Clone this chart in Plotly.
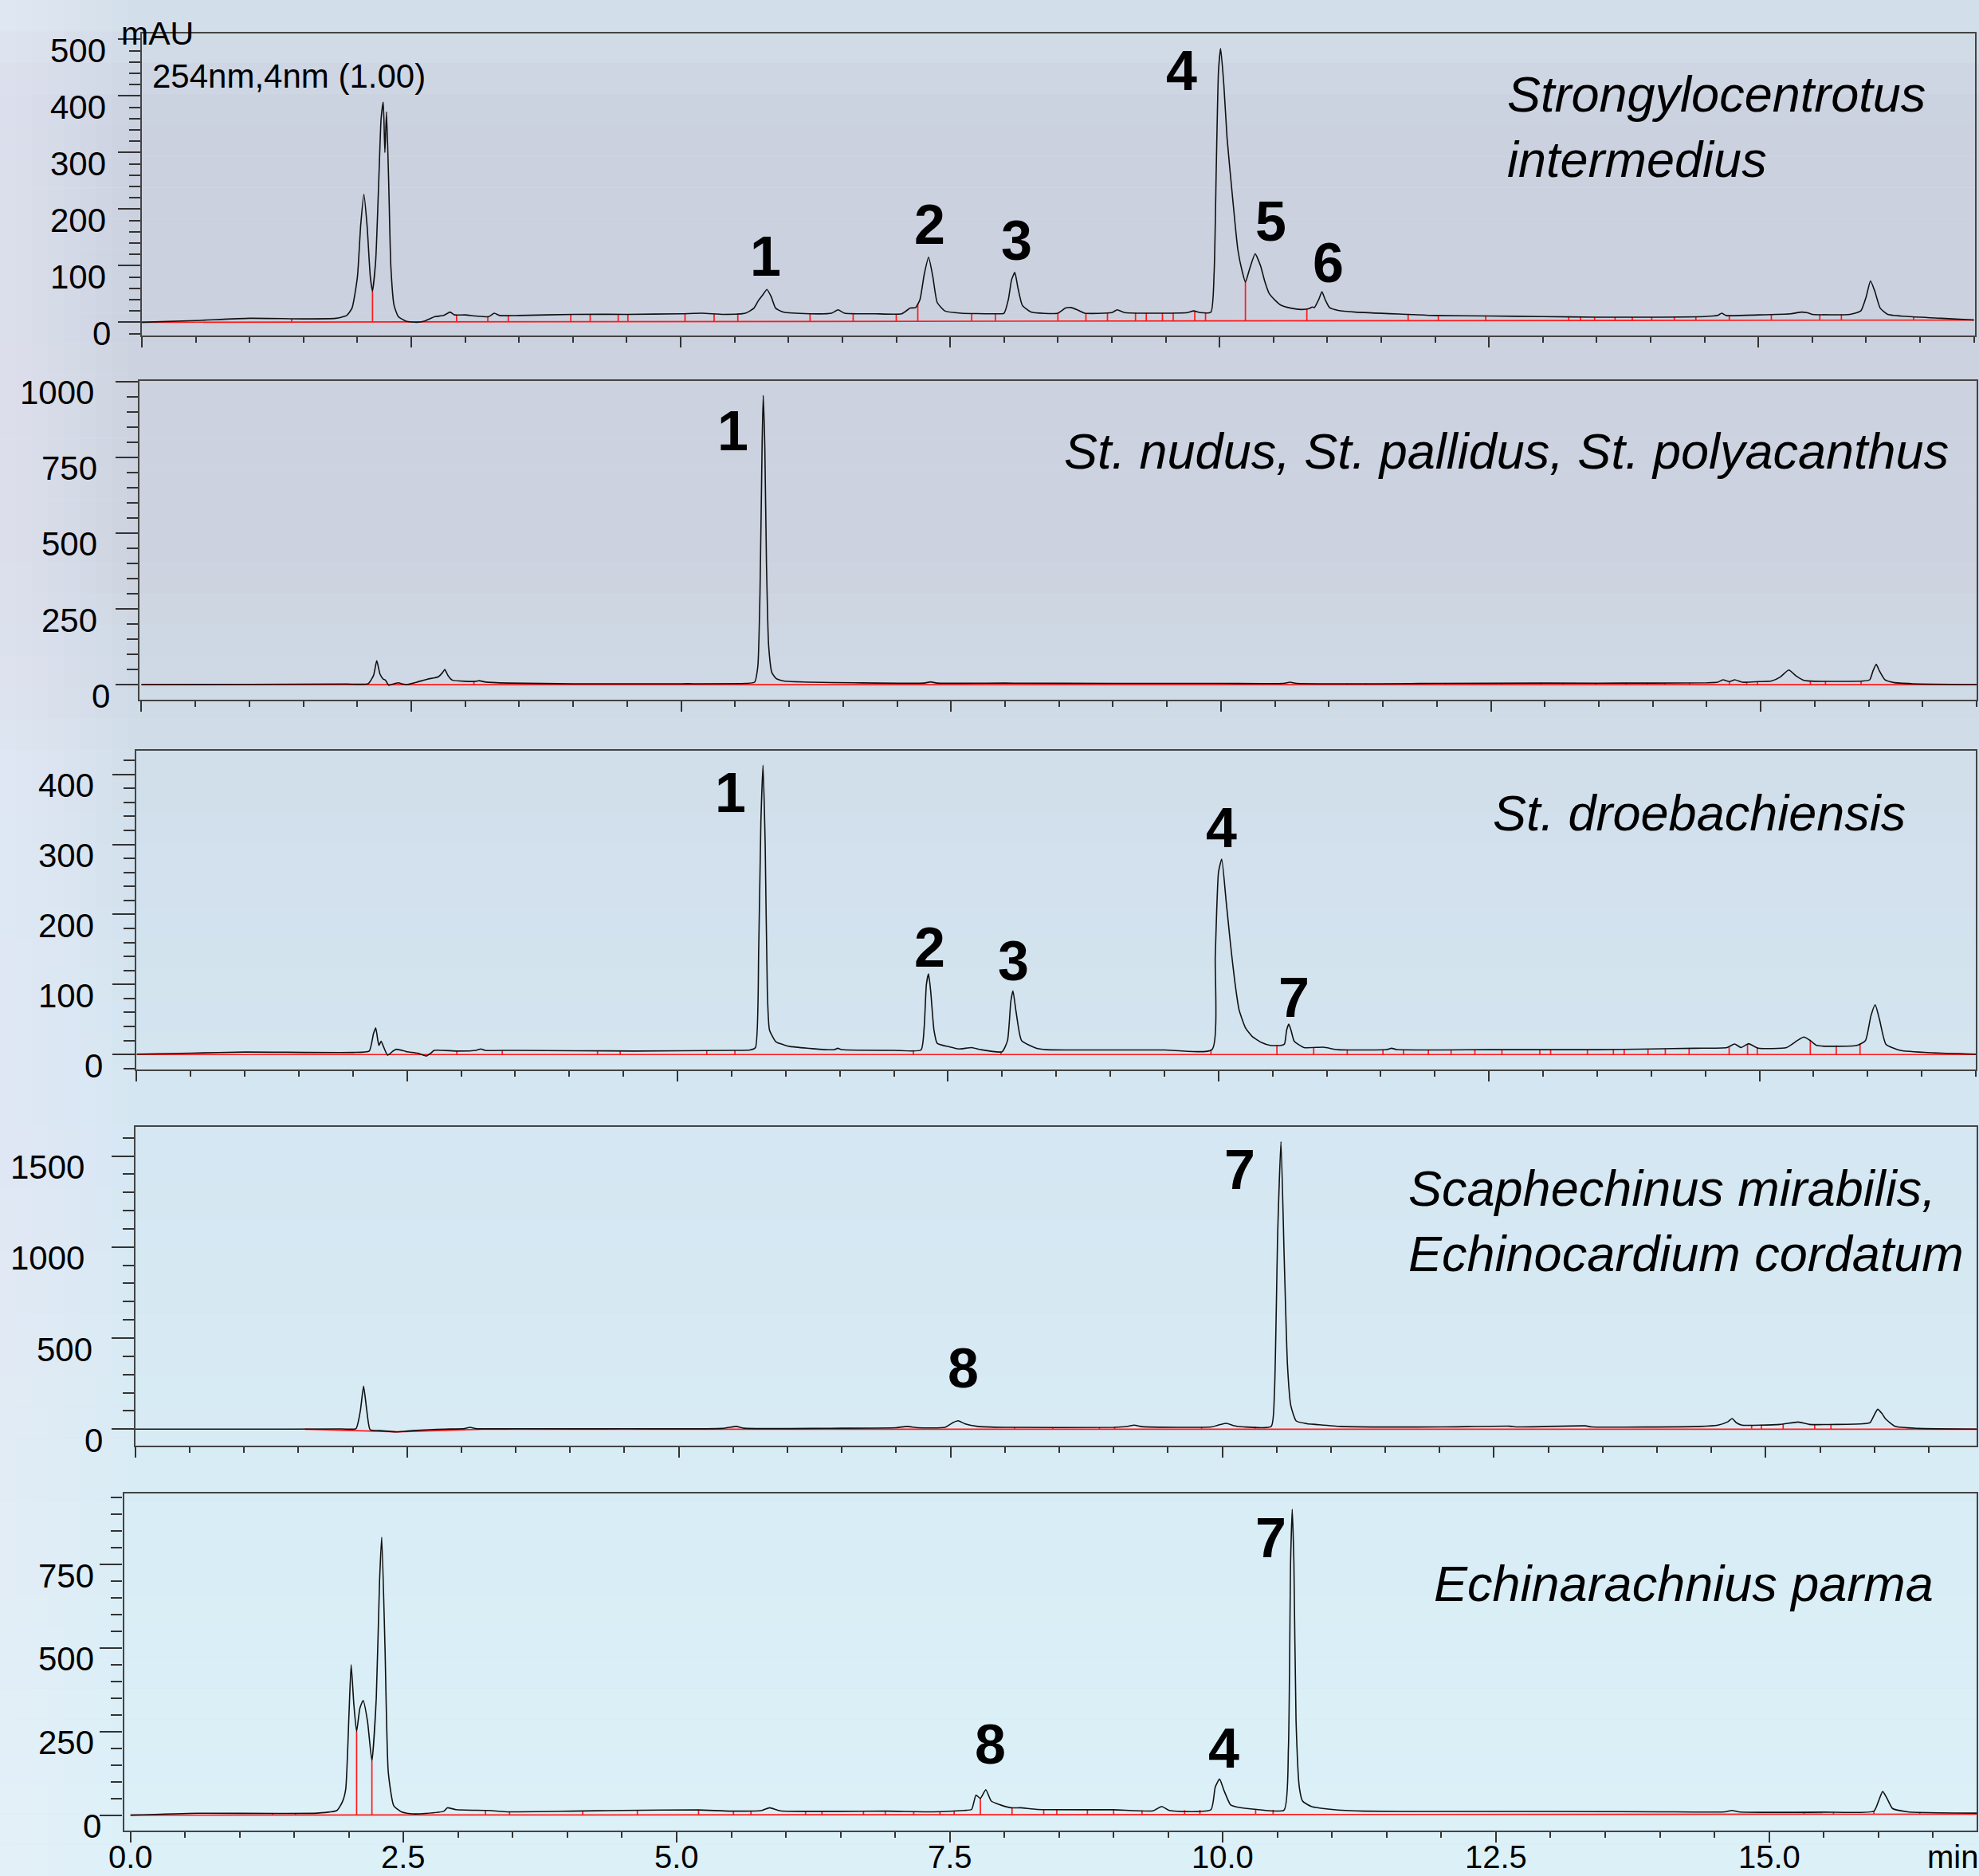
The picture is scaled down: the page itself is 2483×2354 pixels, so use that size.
import numpy as np
import plotly.graph_objects as go

W, H = 2483, 2354

# ---------------- data ----------------
# Panel 1: Strongylocentrotus intermedius
p1_t = [0.0, 0.5, 1.0, 1.5, 1.8, 1.9, 1.95, 2.0, 2.03, 2.06, 2.09, 2.12, 2.14, 2.17, 2.20, 2.22, 2.24, 2.255, 2.27, 2.29,
        2.31, 2.34, 2.38, 2.45, 2.55, 2.62, 2.72, 2.80, 2.86, 2.90, 3.0, 3.1, 3.22, 3.27, 3.32, 3.5, 4.0, 4.5, 5.0, 5.2,
        5.4, 5.6, 5.68, 5.72, 5.76, 5.80, 5.84, 5.88, 5.95, 6.2, 6.4, 6.46, 6.52, 6.8, 7.05, 7.13, 7.18, 7.22, 7.26, 7.30,
        7.34, 7.38, 7.45, 7.6, 7.9, 8.0, 8.04, 8.07, 8.10, 8.13, 8.17, 8.25, 8.5, 8.57, 8.62, 8.68, 8.75, 9.0, 9.05, 9.12,
        9.5, 9.7, 9.76, 9.82, 9.92, 9.95, 9.97, 9.99, 10.01, 10.04, 10.07, 10.12, 10.17, 10.21, 10.24, 10.28, 10.33, 10.38,
        10.42, 10.46, 10.52, 10.57, 10.66, 10.76, 10.83, 10.86, 10.88, 10.92, 10.95, 10.98, 11.02, 11.1, 11.26, 11.75,
        12.0, 12.5, 13.0, 13.5, 14.0, 14.5, 14.62, 14.66, 14.70, 15.0, 15.3, 15.4, 15.45, 15.5, 15.85, 15.95, 16.0, 16.04,
        16.08, 16.13, 16.2, 16.4, 16.7, 17.0]
p1_v = [0, 3, 7, 6, 7, 12, 25, 80, 170, 226, 170, 80, 55, 110, 260, 360, 389, 300, 372, 250,
        100, 30, 10, 2, 0, 2, 10, 12, 18, 13, 13, 11, 10, 16, 12, 12, 14, 14, 15, 16,
        14, 16, 25, 38, 48, 58, 45, 25, 18, 15, 16, 22, 16, 15, 15, 25, 26, 40, 85, 115,
        80, 35, 20, 16, 15, 16, 40, 75, 88, 60, 30, 18, 16, 25, 26, 22, 16, 17, 22, 17,
        16, 17, 20, 17, 18, 90, 278, 443, 484, 419, 325, 222, 128, 90, 71, 95, 121, 100,
        72, 51, 38, 30, 25, 22.5, 24, 27, 26, 40, 54, 40, 26, 21, 18, 14,
        12, 11, 10, 9, 9, 10, 12, 16, 12, 13, 15, 18, 17, 14, 14, 20, 45, 73,
        55, 25, 14, 10, 7, 4]
p1_base_t = [0.0, 17.0]
p1_base_v = [0, 4]
p1_drops = [1.39, 2.14, 2.92, 3.21, 3.40, 3.98, 4.16, 4.42, 4.51, 5.04, 5.31, 5.53, 6.20, 6.60, 7.00, 7.20, 7.70,
            7.92, 8.50, 8.76, 8.96, 9.22, 9.32, 9.47, 9.57, 9.77, 9.87, 10.24, 10.81, 11.75, 12.03, 12.47, 13.24,
            13.35, 13.48, 13.67, 13.83, 14.01, 14.22, 14.42, 14.73, 15.12, 15.57, 15.77, 16.44]

# Panel 2: St. nudus, St. pallidus, St. polyacanthus
p2_t = [0, 1.0, 1.9, 2.1, 2.15, 2.18, 2.21, 2.24, 2.26, 2.29, 2.34, 2.38, 2.42, 2.46, 2.55, 2.65, 2.75, 2.79, 2.81,
        2.84, 2.88, 3.0, 3.1, 3.13, 3.18, 3.4, 4.0, 5.0, 5.6, 5.68, 5.71, 5.73, 5.75, 5.76, 5.775, 5.79, 5.81, 5.84,
        5.88, 5.95, 6.2, 6.6, 7.25, 7.31, 7.37, 8.0, 9.0, 10.0, 10.58, 10.64, 10.70, 12.0, 13.0, 14.0, 14.5, 14.6,
        14.65, 14.71, 14.76, 14.83, 14.98, 15.1, 15.18, 15.26, 15.33, 15.40, 15.5, 15.95, 16.01, 16.04, 16.07, 16.10,
        16.15, 16.23, 16.41, 17.0]
p2_v = [0, 1, 2, 3, 30, 79, 35, 18, 15, -2, 3, 6, 2, 0, 8, 18, 26, 40, 50,
        30, 15, 11, 11, 13, 9, 5, 3, 3, 4, 8, 60, 300, 800, 955, 780, 400, 130, 40,
        20, 12, 8, 6, 5, 9, 5, 5, 4, 4, 4, 8, 4, 4, 5, 5, 6, 8,
        16, 10, 16, 8, 10, 12, 25, 48, 28, 14, 11, 12, 16, 45, 67, 45,
        16, 7, 3, 0]
p2_base_t = [0.0, 17.0]
p2_base_v = [0, 0]
p2_drops = [3.08, 11.17, 11.34, 11.69, 12.08, 12.60, 12.96, 13.17, 13.47, 13.75, 13.95, 14.11, 14.34, 14.71, 14.87,
            14.97, 15.46, 15.60, 15.93]

# Panel 3: St. droebachiensis
p3_t = [0, 0.5, 1.0, 2.0, 2.15, 2.19, 2.21, 2.23, 2.24, 2.26, 2.28, 2.32, 2.37, 2.40, 2.5, 2.6, 2.68, 2.72, 2.75,
        2.96, 3.14, 3.18, 3.22, 3.5, 4.6, 5.5, 5.67, 5.72, 5.75, 5.77, 5.79, 5.81, 5.83, 5.85, 5.91, 5.98, 6.04, 6.36,
        6.45, 6.48, 6.52, 7.0, 7.25, 7.28, 7.30, 7.32, 7.34, 7.37, 7.40, 7.51, 7.6, 7.72, 7.8, 8.0, 8.05, 8.08, 8.10,
        8.13, 8.18, 8.31, 8.41, 9.0, 9.5, 9.94, 9.97, 10.0, 10.03, 10.07, 10.11, 10.15, 10.19, 10.25, 10.31, 10.40,
        10.48, 10.58, 10.61, 10.63, 10.65, 10.67, 10.70, 10.79, 10.97, 11.1, 11.55, 11.6, 11.65, 12.5, 13.5, 14.0,
        14.4, 14.7, 14.77, 14.83, 14.9, 14.99, 15.25, 15.35, 15.41, 15.47, 15.53, 15.9, 15.98, 16.03, 16.07, 16.11,
        16.17, 16.3, 16.6, 17.0]
p3_v = [0.5, 2, 3.5, 3, 5, 30, 38, 20, 13, 19, 12, -1, 5, 7.5, 4, 2, -2, 2, 6,
        5, 6, 8, 6, 6, 5, 6, 6.5, 10, 150, 330, 413, 300, 90, 35, 18, 14, 11.5, 7,
        7, 9, 7, 6, 6.5, 40, 100, 115, 90, 35, 16, 11, 8, 10, 7, 4, 20, 75, 91,
        60, 20, 9.5, 7, 6.5, 6.5, 7, 140, 260, 279, 220, 159, 105, 64, 38, 26, 17,
        13, 13, 15, 35, 43.5, 35, 19, 10, 10.5, 7, 7, 9, 7, 7, 7, 8,
        9, 10, 15, 10, 15.5, 9, 10, 20, 25, 20, 13, 13, 20, 55, 71, 50,
        14.5, 6, 2.5, 0.6]
p3_base_t = [0.0, 17.0]
p3_base_v = [0, 0]
p3_drops = [2.96, 3.38, 4.26, 4.47, 5.27, 5.53, 7.18, 7.99, 9.93, 10.54, 10.88, 11.19, 11.52, 11.71, 11.94, 12.15,
            12.37, 12.62, 12.97, 13.07, 13.41, 13.65, 13.75, 13.97, 14.13, 14.35, 14.72, 14.89, 14.98, 15.47, 15.71,
            15.93]

# Panel 4: Scaphechinus mirabilis, Echinocardium cordatum
p4_t = [0, 1.0, 1.9, 2.03, 2.07, 2.10, 2.13, 2.16, 2.25, 2.40, 2.55, 2.7, 2.85, 3.03, 3.08, 3.13, 3.5, 4.5, 5.4,
        5.53, 5.6, 6.5, 7.0, 7.1, 7.2, 7.45, 7.52, 7.57, 7.63, 7.75, 8.0, 9.0, 9.12, 9.19, 9.26, 9.6, 9.9, 9.98,
        10.04, 10.1, 10.2, 10.45, 10.48, 10.51, 10.54, 10.57, 10.60, 10.63, 10.68, 10.78, 10.86, 11.09, 12.0, 12.65,
        12.7, 13.34, 13.4, 14.4, 14.56, 14.65, 14.69, 14.73, 14.78, 15.13, 15.3, 15.4, 15.9, 15.96, 16.0, 16.03,
        16.07, 16.10, 16.19, 16.4, 16.94]
p4_v = [0, 0, 1, 3, 100, 236, 100, -3, -8, -15, -8, -3, 0, 3, 10, 3, 2, 2, 4,
        15, 5, 5, 8, 15, 8, 10, 35, 46, 30, 15, 10, 10, 14, 22, 14, 10, 12, 25,
        32, 20, 12, 15, 204, 1080, 1579, 934, 351, 131, 45, 30, 26, 15, 12, 16,
        12, 18, 12, 15, 22, 40, 58, 35, 22, 26, 39, 26, 30, 36, 80, 109,
        85, 58, 15, 4, 0]
p4_base_t = [1.56, 2.40, 3.2, 16.94]
p4_base_v = [0, -15, 0, 0]
p4_drops = [8.09, 8.44, 8.87, 9.01, 9.81, 10.30, 14.87, 14.96, 15.16, 15.45, 15.60]

# Panel 5: Echinarachnius parma
p5_t = [0, 0.61, 1.71, 1.89, 1.94, 1.97, 2.00, 2.02, 2.045, 2.07, 2.10, 2.13, 2.17, 2.21, 2.25, 2.28, 2.30, 2.33,
        2.36, 2.41, 2.48, 2.58, 2.7, 2.87, 2.90, 2.98, 3.28, 3.46, 4.04, 4.5, 5.2, 5.49, 5.78, 5.85, 5.95, 6.93,
        7.34, 7.63, 7.70, 7.74, 7.78, 7.83, 7.88, 7.96, 8.06, 8.15, 8.3, 9.0, 9.36, 9.44, 9.51, 9.89, 9.93, 9.97,
        10.01, 10.07, 10.13, 10.31, 10.56, 10.60, 10.62, 10.635, 10.65, 10.67, 10.70, 10.73, 10.81, 11.0, 11.3,
        12.0, 13.0, 14.0, 14.6, 14.66, 14.72, 15.5, 15.96, 16.0, 16.04, 16.08, 16.13, 16.27, 16.9]
p5_v = [0, 5.7, 6, 14, 40, 77, 300, 450, 330, 250, 320, 343, 280, 162, 350, 700, 832, 500,
        128, 28, 10, 4, 5, 12, 22, 16.5, 14, 10, 12, 14, 15.6, 12, 14, 22, 13, 12,
        10, 14, 17, 60, 50, 76, 42, 31, 22, 22, 17, 16, 13, 26, 14, 16, 84, 108,
        74, 31, 24, 17, 15, 200, 758, 915, 758, 281, 83, 42, 26, 17, 12,
        11, 11, 10, 10, 14, 10, 9, 12, 40, 71, 50, 20, 10, 6]
p5_base_t = [0.0, 16.9]
p5_base_v = [0, 3]
p5_drops = [1.30, 1.51, 2.07, 2.21, 3.25, 3.47, 4.14, 4.64, 5.20, 5.52, 5.68, 6.18, 6.33, 6.71, 6.91, 7.17, 7.41,
            7.54, 7.78, 8.07, 8.36, 8.48, 8.76, 9.00, 9.26, 9.65, 9.79, 10.30, 10.46, 15.32, 15.59, 15.96, 16.38]

species = ["Strongylocentrotus<br>intermedius", "St. nudus, St. pallidus, St. polyacanthus", "St. droebachiensis",
           "Scaphechinus mirabilis,<br>Echinocardium cordatum", "Echinarachnius parma"]

ytick_vals = [[0, 100, 200, 300, 400, 500], [0, 250, 500, 750, 1000], [0, 100, 200, 300, 400],
              [0, 500, 1000, 1500], [0, 250, 500, 750]]
yminor = [20, 50, 20, 100, 50]
xtick_vals = [0, 2.5, 5.0, 7.5, 10.0, 12.5, 15.0]
xtick_text = ["0.0", "2.5", "5.0", "7.5", "10.0", "12.5", "15.0"]

# peak number labels: (panel, label, x_px, y_px)
peak_labels = [(0, "1", 961, 322), (0, "2", 1166, 282), (0, "3", 1275, 302), (0, "4", 1482, 89),
               (0, "5", 1594, 278), (0, "6", 1666, 330), (1, "1", 920, 541),
               (2, "1", 916, 995), (2, "2", 1166, 1189), (2, "3", 1271, 1206), (2, "4", 1532, 1039),
               (2, "7", 1623, 1252), (3, "7", 1555, 1468), (3, "8", 1208, 1717),
               (4, "8", 1242, 2189), (4, "4", 1535, 2194), (4, "7", 1594, 1930)]

# ---------------- layout geometry (pixels) ----------------
panels = [
    dict(left=178, right=2478, top=42.3, bottom=420.7, xr=[0, 17.01], yr=[-23, 510], lab_r=135, zero_r=141, wide_r=135),
    dict(left=175.4, right=2480, top=477.7, bottom=877.7, xr=[-0.015, 17.0], yr=[-49, 1003], lab_r=124, zero_r=140, wide_r=120),
    dict(left=171.4, right=2479, top=941.7, bottom=1341.7, xr=[0, 17.0], yr=[-21, 434], lab_r=120, zero_r=131, wide_r=120),
    dict(left=169.8, right=2480, top=1414, bottom=1814.3, xr=[0, 16.94], yr=[-92, 1660], lab_r=118, zero_r=131, wide_r=108),
    dict(left=155.5, right=2480, top=1874.2, bottom=2296.5, xr=[-0.06, 16.9], yr=[-45, 962], lab_r=120, zero_r=129, wide_r=120),
]
species_pos = [(1889, 159), (1333, 566), (1871, 1020), (1765, 1532), (1797, 1987)]

signals = [(p1_t, p1_v), (p2_t, p2_v), (p3_t, p3_v), (p4_t, p4_v), (p5_t, p5_v)]
bases = [(p1_base_t, p1_base_v), (p2_base_t, p2_base_v), (p3_base_t, p3_base_v),
         (p4_base_t, p4_base_v), (p5_base_t, p5_base_v)]
drops = [p1_drops, p2_drops, p3_drops, p4_drops, p5_drops]

FONT = "Arial, Liberation Sans, sans-serif"
fig = go.Figure()

for i in range(5):
    ax = "" if i == 0 else str(i + 1)
    st, sv = signals[i]
    bt, bv = bases[i]
    # red baseline
    fig.add_trace(go.Scatter(x=bt, y=bv, mode="lines", line=dict(color="#ff1a1a", width=1.7),
                             xaxis="x" + ax, yaxis="y" + ax, hoverinfo="skip", showlegend=False))
    # red drop lines (from baseline up to the trace)
    dx, dy = [], []
    for t in drops[i]:
        b = float(np.interp(t, bt, bv))
        s = float(np.interp(t, st, sv))
        dx += [t, t, None]
        dy += [b, s, None]
    fig.add_trace(go.Scatter(x=dx, y=dy, mode="lines", line=dict(color="#ff1a1a", width=1.7),
                             xaxis="x" + ax, yaxis="y" + ax, hoverinfo="skip", showlegend=False))
    # chromatogram
    fig.add_trace(go.Scatter(x=st, y=sv, mode="lines",
                             line=dict(color="#111111", width=1.6, shape="spline", smoothing=0.5),
                             xaxis="x" + ax, yaxis="y" + ax, hoverinfo="skip", showlegend=False))

layout = {}
annotations = []
for i, p in enumerate(panels):
    ax = "" if i == 0 else str(i + 1)
    layout["xaxis" + ax] = dict(
        domain=[p["left"] / W, p["right"] / W], range=p["xr"], anchor="y" + ax,
        showgrid=False, zeroline=False, showline=True, mirror=True, linecolor="#444", linewidth=2.2,
        ticks="outside", ticklen=13, tickwidth=2, tickcolor="#333",
        tickvals=xtick_vals, showticklabels=False,
        minor=dict(ticks="outside", ticklen=7, tickwidth=1.6, tickcolor="#333", tickmode="linear",
                   tick0=0, dtick=0.5, showgrid=False),
    )
    layout["yaxis" + ax] = dict(
        domain=[1 - p["bottom"] / H, 1 - p["top"] / H], range=p["yr"], anchor="x" + ax,
        showgrid=False, zeroline=False, showline=True, mirror=True, linecolor="#444", linewidth=2.2,
        ticks="outside", ticklen=28, tickwidth=2, tickcolor="#333",
        tickvals=ytick_vals[i], showticklabels=False,
        minor=dict(ticks="outside", ticklen=14, tickwidth=1.6, tickcolor="#333", tickmode="linear",
                   tick0=0, dtick=yminor[i], showgrid=False),
    )
    # y tick labels (instrument style: sitting slightly below their tick)
    for v in ytick_vals[i]:
        txt = str(v)
        if v == 0:
            xr = p["zero_r"]
        elif len(txt) >= 4:
            xr = p["wide_r"]
        else:
            xr = p["lab_r"]
        annotations.append(dict(text=txt, x=xr / W, y=v, xref="paper", yref="y" + ax, xanchor="right",
                                yanchor="middle", yshift=-14, showarrow=False,
                                font=dict(family=FONT, size=42, color="#000")))

# x tick labels of the bottom panel
for v, txt in zip(xtick_vals, xtick_text):
    annotations.append(dict(text=txt, x=v, y=1 - 2330 / H, xref="x5", yref="paper", xanchor="center",
                            yanchor="middle", showarrow=False, font=dict(family=FONT, size=40, color="#000")))

for i, (x, y) in enumerate(species_pos):
    annotations.append(dict(text="<i>" + species[i] + "</i>", x=x / W, y=1 - y / H, xref="paper", yref="paper",
                            xanchor="left", yanchor="middle", align="left", showarrow=False,
                            font=dict(family=FONT, size=63, color="#000")))
for (pi, lab, x, y) in peak_labels:
    annotations.append(dict(text="<b>" + lab + "</b>", x=x / W, y=1 - y / H, xref="paper", yref="paper",
                            xanchor="center", yanchor="middle", showarrow=False,
                            font=dict(family=FONT, size=70, color="#000")))
annotations.append(dict(text="mAU", x=150 / W, y=1 - 42 / H, xref="paper", yref="paper", xanchor="left",
                        yanchor="middle", showarrow=False, font=dict(family=FONT, size=41, color="#000")))
annotations.append(dict(text="254nm,4nm (1.00)", x=189 / W, y=1 - 95 / H, xref="paper", yref="paper",
                        xanchor="left", yanchor="middle", showarrow=False,
                        font=dict(family=FONT, size=42, color="#000")))
annotations.append(dict(text="min", x=2416 / W, y=1 - 2330 / H, xref="paper", yref="paper", xanchor="left",
                        yanchor="middle", showarrow=False, font=dict(family=FONT, size=40, color="#000")))

# background: soft gradient bands imitating the photo
stops = [(0, (212, 226, 236)), (150, (203, 209, 223)), (700, (205, 211, 223)), (950, (209, 223, 235)),
         (1400, (213, 231, 242)), (1900, (217, 237, 246)), (2354, (221, 241, 249))]
shapes = []
nb = 60
ys = [s[0] for s in stops]
for k in range(nb):
    y0 = k * H / nb
    y1 = (k + 1) * H / nb
    ym = (y0 + y1) / 2
    col = [int(np.interp(ym, ys, [s[1][c] for s in stops])) for c in range(3)]
    shapes.append(dict(type="rect", xref="paper", yref="paper", x0=0, x1=1, y0=1 - y1 / H, y1=1 - y0 / H,
                       fillcolor="rgb(%d,%d,%d)" % tuple(col), line=dict(width=0), layer="below"))
# lighter left strip, fading to the right
for k in range(8):
    shapes.append(dict(type="rect", xref="paper", yref="paper", x0=0, x1=(20 + 20 * k) / W, y0=0, y1=1,
                       fillcolor="rgba(236,246,251,0.08)", line=dict(width=0), layer="below"))

fig.update_layout(
    width=W, height=H, margin=dict(l=0, r=0, t=0, b=0, autoexpand=False),
    paper_bgcolor="rgb(212,226,236)", plot_bgcolor="rgba(0,0,0,0)",
    showlegend=False, annotations=annotations, shapes=shapes,
    font=dict(family=FONT, color="#000"),
    **layout,
)

fig.write_html(
    "out.html",
    config={"displayModeBar": False},
    post_script="document.body.style.margin='0';document.body.style.padding='0';"
                "document.body.style.overflow='hidden';document.body.style.background='rgb(212,226,236)';",
)
